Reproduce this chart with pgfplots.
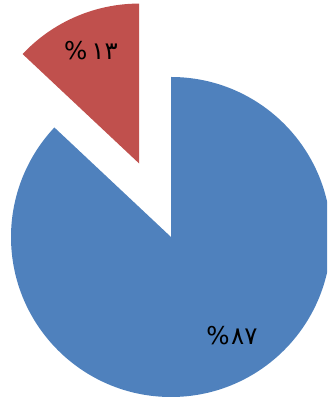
\documentclass[border=0pt]{standalone}
\usepackage{pgfplots}
\pgfplotsset{compat=1.18}
\usepackage{pgfplotstable}
\usepackage{fontspec}
\usetikzlibrary{calc}
\newfontfamily\arabicfont[Script=Arabic]{DejaVu Sans}
\definecolor{sliceblue}{HTML}{4F81BD}
\definecolor{slicered}{HTML}{C0504D}

% shares of the two slices, in percent
\pgfplotstableread{
share
87
13
}\piedata
\pgfplotstablegetelem{0}{share}\of\piedata \let\shareA\pgfplotsretval
\pgfplotstablegetelem{1}{share}\of\piedata \let\shareB\pgfplotsretval
% first slice runs clockwise from 12 o'clock, the second counter-clockwise
\pgfmathsetmacro\endA{90-3.6*\shareA}
\pgfmathsetmacro\endB{90+3.6*\shareB}
\pgfmathsetmacro\midB{90+1.8*\shareB}

% percent sign on the left, Arabic-Indic digits on the right
\newcommand\pct[2][2pt]{\hbox{\%}\kern#1\hbox{#2}}

\begin{document}
\begin{tikzpicture}
\begin{axis}[
  x=1pt, y=1pt,
  xmin=0, xmax=327, ymin=0, ymax=403,
  scale only axis, hide axis, clip=true,
]
% large slice
\fill[sliceblue] (axis cs:171,166) -- ($(axis cs:171,166)+(90:160pt)$)
  arc[start angle=90, end angle=\endA, radius=160pt] -- cycle;
% small slice, pulled out along its bisector by half the radius
\fill[slicered] ($(axis cs:171,166)+(\midB:80pt)$) -- ++(90:160pt)
  arc[start angle=90, end angle=\endB, radius=160pt] -- cycle;
\node[font=\arabicfont\fontsize{24.5}{29}\selectfont, text=black] at (axis cs:91,352) {\pct[4pt]{١٣}};
\node[font=\arabicfont\fontsize{24.5}{29}\selectfont, text=black] at (axis cs:232,67) {\pct[1.5pt]{٨٧}};
\end{axis}
\pgfresetboundingbox
\path[use as bounding box] (current axis.south west) rectangle (current axis.north east);
\end{tikzpicture}
\end{document}
